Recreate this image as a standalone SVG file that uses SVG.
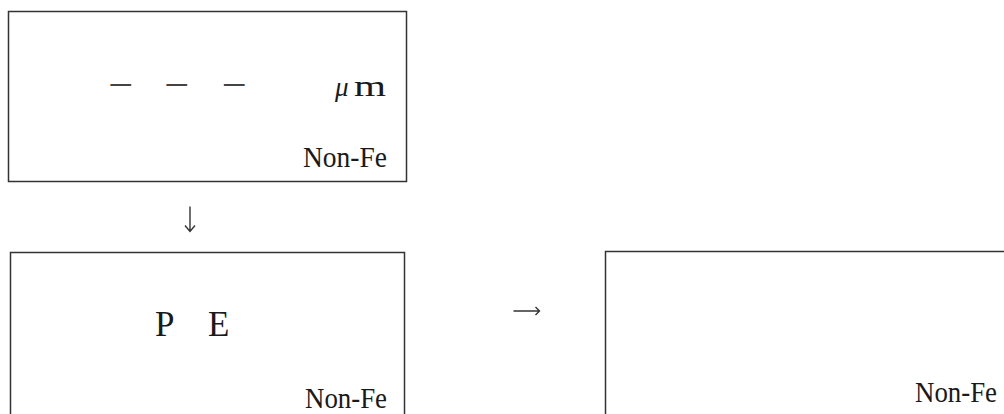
<svg xmlns="http://www.w3.org/2000/svg" width="1004" height="414" viewBox="0 0 1004 414">
<style>
.box{fill:#fff;stroke:#333;stroke-width:1.5}
.t{font-family:"Liberation Serif","DejaVu Serif",serif;fill:#1a1a1a}
.d{font-family:"Noto Sans CJK KR","Liberation Serif",sans-serif;fill:#444;font-size:28px}
.conn{fill:none;stroke:#333;stroke-width:1.4}
</style>
<rect width="1004" height="414" fill="#fff"/>
<g id="node1">
<rect class="box" x="8.5" y="11.5" width="398" height="170"/>
<text class="d" x="106.5" y="96" textLength="28.5" lengthAdjust="spacingAndGlyphs">－</text>
<text class="d" x="162.5" y="96" textLength="28.5" lengthAdjust="spacingAndGlyphs">－</text>
<text class="d" x="220" y="96" textLength="28.5" lengthAdjust="spacingAndGlyphs">－</text>
<text class="t" x="335" y="96" font-size="27" font-style="italic">μ</text>
<text class="t" x="354" y="96" font-size="30" textLength="32" lengthAdjust="spacingAndGlyphs">m</text>
<text class="t" x="387" y="167" font-size="29" text-anchor="end" textLength="84" lengthAdjust="spacingAndGlyphs">Non-Fe</text>
</g>
<g id="node2">
<rect class="box" x="10.5" y="252.5" width="394" height="200"/>
<text class="t" x="155" y="336" font-size="35">P</text>
<text class="t" x="208" y="336" font-size="35">E</text>
<text class="t" x="387" y="408" font-size="29" text-anchor="end" textLength="82" lengthAdjust="spacingAndGlyphs">Non-Fe</text>
</g>
<g id="node3">
<rect class="box" x="605.5" y="251.5" width="450" height="200"/>
<text class="t" x="997" y="402" font-size="29" text-anchor="end" textLength="82" lengthAdjust="spacingAndGlyphs">Non-Fe</text>
</g>
<g id="connectors">
<path class="conn" d="M190 206.5 V231.5 M185 225.5 L190 231.5 L195 225.5"/>
<path class="conn" d="M513.5 311 H539 M535.5 307 L539.5 311 L535.5 315"/>
</g>
</svg>
